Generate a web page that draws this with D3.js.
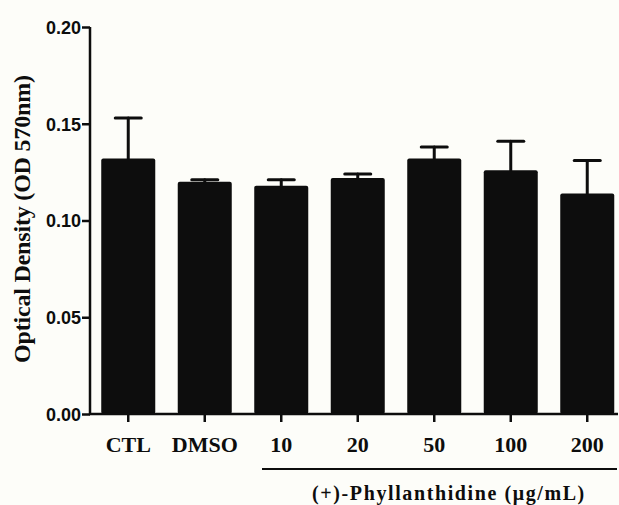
<!DOCTYPE html>
<html>
<head>
<meta charset="utf-8">
<script src="https://cdn.jsdelivr.net/npm/d3@7"></script>
<style>
  html, body { margin: 0; padding: 0; background: #fdfdf9; }
</style>
</head>
<body>
<div id="chart"></div>
<script>
// --- Data ---
const categories = ["CTL", "DMSO", "10", "20", "50", "100", "200"];
const means = [0.132, 0.120, 0.118, 0.122, 0.132, 0.126, 0.114];
const errors = [0.021, 0.001, 0.003, 0.002, 0.006, 0.015, 0.017];
const yTicks = [0, 0.05, 0.10, 0.15, 0.20];

const width = 619;
const height = 505;
const ink = "#0d0d0d";

const svg = d3.select("#chart")
  .append("svg")
  .attr("width", width)
  .attr("height", height)
  .style("background", "#fdfdf9");

// --- Scales ---
const x = d3.scaleBand()
  .domain(categories)
  .range([90, 625.5])
  .paddingInner(0.294)
  .paddingOuter(0.147);

const y = d3.scaleLinear()
  .domain([0, 0.2])
  .range([414, 27]);

const rows = categories.map((c, i) => ({ cat: c, mean: means[i], err: errors[i] }));

// --- Bars ---
svg.append("g")
  .selectAll("rect")
  .data(rows)
  .join("rect")
  .attr("x", d => x(d.cat))
  .attr("y", d => y(d.mean))
  .attr("width", x.bandwidth())
  .attr("height", d => y(0) - y(d.mean))
  .attr("rx", 2)
  .attr("fill", ink);

// --- Error bars (upper only) ---
const eb = svg.append("g")
  .attr("stroke", ink)
  .attr("stroke-width", 3)
  .attr("stroke-linecap", "round");

eb.selectAll("line.v")
  .data(rows)
  .join("line")
  .attr("class", "v")
  .attr("x1", d => x(d.cat) + x.bandwidth() / 2)
  .attr("x2", d => x(d.cat) + x.bandwidth() / 2)
  .attr("y1", d => y(d.mean))
  .attr("y2", d => y(d.mean + d.err));

eb.selectAll("line.cap")
  .data(rows)
  .join("line")
  .attr("class", "cap")
  .attr("x1", d => x(d.cat) + x.bandwidth() / 2 - 13)
  .attr("x2", d => x(d.cat) + x.bandwidth() / 2 + 13)
  .attr("y1", d => y(d.mean + d.err))
  .attr("y2", d => y(d.mean + d.err));

// --- Y axis ---
const yAxis = svg.append("g")
  .attr("transform", "translate(90,0)")
  .call(d3.axisLeft(y).tickValues(yTicks).tickFormat(d3.format(".2f")).tickSize(8).tickPadding(1));

yAxis.select(".domain").remove();
yAxis.selectAll(".tick line").attr("stroke", ink).attr("stroke-width", 2.5);
yAxis.selectAll(".tick text")
  .attr("fill", ink)
  .style("font-family", "'Liberation Sans', Arial, sans-serif")
  .style("font-weight", "bold")
  .style("font-size", "18px")
  .attr("dy", "0.36em");

svg.append("line")
  .attr("x1", 90).attr("x2", 90)
  .attr("y1", y(0.2)).attr("y2", y(0) + 1)
  .attr("stroke", ink)
  .attr("stroke-width", 2.5);

// --- X axis ---
const xAxis = svg.append("g")
  .attr("transform", "translate(0,414)")
  .call(d3.axisBottom(x).tickSize(8).tickPadding(14));

xAxis.select(".domain").remove();
xAxis.selectAll(".tick line").attr("stroke", ink).attr("stroke-width", 2.5);
xAxis.selectAll(".tick text")
  .attr("fill", ink)
  .style("font-family", "'Liberation Serif', 'Times New Roman', serif")
  .style("font-weight", "bold")
  .style("font-size", "22px");

svg.append("line")
  .attr("x1", 89).attr("x2", 618)
  .attr("y1", 414).attr("y2", 414)
  .attr("stroke", ink)
  .attr("stroke-width", 2.5);

// --- Group bracket under concentrations ---
svg.append("line")
  .attr("x1", 262).attr("x2", 617)
  .attr("y1", 469).attr("y2", 469)
  .attr("stroke", ink)
  .attr("stroke-width", 2);

svg.append("text")
  .attr("x", 449)
  .attr("y", 500)
  .attr("text-anchor", "middle")
  .attr("fill", ink)
  .style("font-family", "'Liberation Serif', 'Times New Roman', serif")
  .style("font-weight", "bold")
  .style("font-size", "20px")
  .style("letter-spacing", "1.6px")
  .text("(+)-Phyllanthidine (μg/mL)");

// --- Y axis title ---
svg.append("text")
  .attr("transform", "translate(30,219) rotate(-90)")
  .attr("text-anchor", "middle")
  .attr("fill", ink)
  .attr("textLength", 288)
  .attr("lengthAdjust", "spacing")
  .style("font-family", "'Liberation Serif', 'Times New Roman', serif")
  .style("font-weight", "bold")
  .style("font-size", "24px")
  .text("Optical Density (OD 570nm)");
</script>
</body>
</html>
